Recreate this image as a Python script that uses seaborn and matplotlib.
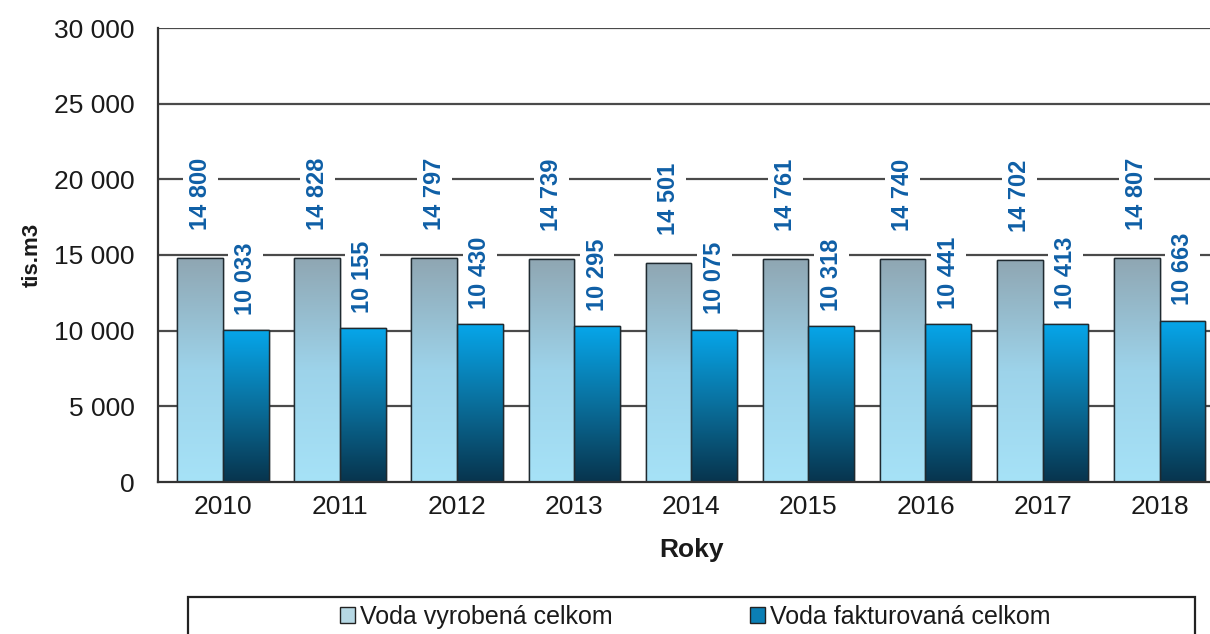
import matplotlib
matplotlib.use("Agg")
import matplotlib.pyplot as plt
import numpy as np
import pandas as pd
import seaborn as sns
from matplotlib.colors import LinearSegmentedColormap
from matplotlib.patches import Patch, Rectangle

years = ["2010", "2011", "2012", "2013", "2014", "2015", "2016", "2017", "2018"]
vyrobena = [14800, 14828, 14797, 14739, 14501, 14761, 14740, 14702, 14807]
fakturovana = [10033, 10155, 10430, 10295, 10075, 10318, 10441, 10413, 10663]
series_names = ["Voda vyrobená celkom", "Voda fakturovaná celkom"]

df = pd.DataFrame({
    "rok": years * 2,
    "hodnota": vyrobena + fakturovana,
    "seria": [series_names[0]] * len(years) + [series_names[1]] * len(years),
})

sns.set_style("white")
plt.rcParams["font.family"] = ["Liberation Sans", "DejaVu Sans"]

fig = plt.figure(figsize=(12.10, 6.34), dpi=100)
# axes spans past the right edge, like the cropped original
ax = fig.add_axes([158 / 1210, 1 - 482 / 634, (1224 - 158) / 1210, (482 - 28) / 634])

for y in range(5000, 30001, 5000):
    ax.axhline(y, color="#4a4a4a", lw=1.6, zorder=0.5)

sns.barplot(data=df, x="rok", y="hodnota", hue="seria", hue_order=series_names,
            palette=["#9cc9dc", "#0b7fb5"], width=0.78, gap=0, saturation=1,
            edgecolor="#1f2a30", linewidth=1.0, ax=ax, legend=False, zorder=2)

cmaps = [
    LinearSegmentedColormap.from_list("vyr", ["#a6e2f7", "#9dd3ea", "#8fa6b2"]),
    LinearSegmentedColormap.from_list("fak", ["#07344d", "#0a6f9c", "#06a6ea"]),
]
grad = np.linspace(0, 1, 256).reshape(-1, 1)
n = len(years)
for i, bar in enumerate(ax.patches[:2 * n]):
    x0, w, h = bar.get_x(), bar.get_width(), bar.get_height()
    im = ax.imshow(grad, extent=[x0, x0 + w, 0, h], origin="lower", aspect="auto",
                   cmap=cmaps[i // n], zorder=2.1)
    im.set_clip_path(bar)
    ax.add_patch(Rectangle((x0, 0), w, h, fill=False, edgecolor="#1f2a30", lw=1.0, zorder=2.2))

    # grey series labels sit higher above the bar than the blue ones
    off = 20 if i < n else 11
    ax.annotate(f"{int(h):,}".replace(",", " "), (x0 + w / 2, h), xytext=(0, off),
                textcoords="offset points", rotation=90, ha="center", va="bottom",
                fontsize=17, fontweight="bold", color="#0f5fa6", zorder=3,
                bbox=dict(boxstyle="square,pad=0.25", fc="white", ec="none"))

ax.set_xlim(-0.555, 8.55)
ax.set_ylim(0, 30000)
ax.set_yticks(range(0, 30001, 5000))
ax.set_yticklabels([f"{v:,}".replace(",", " ") for v in range(0, 30001, 5000)])
ax.tick_params(axis="y", direction="out", length=7, width=1.2, color="#333333",
               labelsize=19, labelcolor="#1a1a1a", pad=10)
ax.tick_params(axis="x", length=0, labelsize=19, labelcolor="#1a1a1a", pad=9)
for s in ["top", "right"]:
    ax.spines[s].set_visible(False)
for s in ["left", "bottom"]:
    ax.spines[s].set_color("#333333")
    ax.spines[s].set_linewidth(1.6)

ax.set_xlabel("Roky", fontsize=19, fontweight="bold", labelpad=14, color="#1a1a1a")
ax.set_ylabel("tis.m3", fontsize=16, fontweight="bold", labelpad=8, color="#1a1a1a")

# legend frame is a plain box reaching past the bottom edge
fig.patches.append(Rectangle((188 / 1210, -0.05), 1007 / 1210, (634 - 597) / 634 + 0.05,
                             transform=fig.transFigure, fill=False,
                             edgecolor="#222222", lw=1.6))
handles = [Patch(facecolor="#b6d8e4", edgecolor="#222222"),
           Patch(facecolor="#0b7fb5", edgecolor="#222222")]
fig.legend(handles, series_names, loc="center", ncol=2,
           bbox_to_anchor=(695 / 1210, 1 - 617 / 634), fontsize=18, frameon=False,
           handlelength=0.6, handleheight=0.6, handletextpad=0.2, columnspacing=5.5,
           labelcolor="#1a1a1a")

fig.savefig("out.png", dpi=100)
